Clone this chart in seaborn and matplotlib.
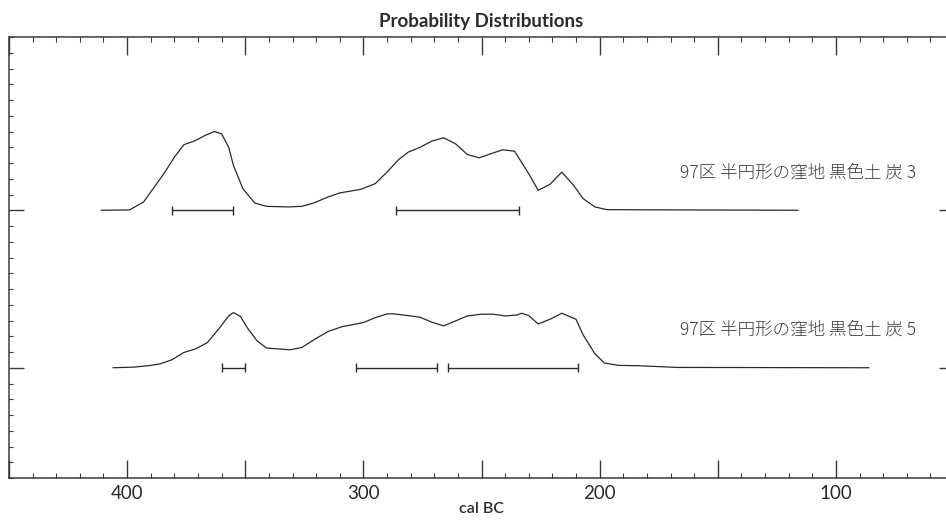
import numpy as np
import pandas as pd
import matplotlib
matplotlib.use("Agg")
import matplotlib.pyplot as plt
import seaborn as sns
from matplotlib.ticker import FixedLocator, FixedFormatter, MultipleLocator

# ---------------------------------------------------------------------------
# Data (cal BC, relative probability)
# ---------------------------------------------------------------------------
labels = ["97区 半円形の窪地 黒色土 炭 3", "97区 半円形の窪地 黒色土 炭 5"]

row1_years = [411, 399, 393, 389, 384, 380, 376, 371, 367, 363, 360, 357, 355,
              351, 346, 341, 332, 326, 321, 315, 310, 301, 295, 290, 285, 281,
              276, 271, 266, 261, 256, 251, 246, 241, 236, 230, 226, 221, 216,
              211, 207, 202, 197, 184, 116]
row1_prob = [0.0, 0.02, 0.53, 1.37, 2.42, 3.37, 4.16, 4.43, 4.75, 5.0, 4.85,
             4.0, 2.85, 1.37, 0.46, 0.25, 0.21, 0.25, 0.46, 0.84, 1.1, 1.33,
             1.69, 2.42, 3.23, 3.69, 4.0, 4.39, 4.6, 4.22, 3.54, 3.33, 3.59,
             3.84, 3.75, 2.32, 1.27, 1.65, 2.42, 1.58, 0.74, 0.21, 0.04, 0.03,
             0.0]

row2_years = [406, 397, 391, 386, 381, 376, 371, 366, 361, 357, 355, 352, 349,
              345, 341, 331, 326, 321, 315, 309, 300, 295, 290, 287, 280, 276,
              271, 266, 261, 256, 250, 245, 240, 235, 233, 230, 226, 221, 216,
              210, 207, 202, 198, 192, 184, 167, 86]
row2_prob = [0.0, 0.04, 0.13, 0.25, 0.51, 0.97, 1.2, 1.6, 2.51, 3.29, 3.5,
             3.25, 2.51, 1.71, 1.25, 1.14, 1.29, 1.77, 2.3, 2.61, 2.87, 3.18,
             3.42, 3.42, 3.29, 3.21, 2.89, 2.66, 2.97, 3.29, 3.4, 3.4, 3.29,
             3.35, 3.46, 3.31, 2.78, 3.08, 3.46, 3.08, 2.09, 0.89, 0.3, 0.15,
             0.13, 0.02, 0.0]

# 95.4% ranges (from, to)
row1_ranges = [(381, 355), (286, 234)]
row2_ranges = [(360, 350), (303, 269), (264, 209)]

x_labels = {400: "400", 300: "300", 200: "200", 100: "100"}

# ---------------------------------------------------------------------------
LINE = "#2a2a2a"
AXIS = "#3a3a3a"
TEXT = "#2b2b2b"

sns.set_theme(style="white")
plt.rcParams["font.family"] = ["Lato", "DejaVu Sans"]

fig = plt.figure(figsize=(9.46, 5.2), dpi=100)
ax = fig.add_axes([9 / 946, 42 / 520, 945 / 946, 441 / 520])

baselines = [17, 7]
rows = [(row1_years, row1_prob, row1_ranges), (row2_years, row2_prob, row2_ranges)]

for (yrs, prob, ranges), base, lab in zip(rows, baselines, labels):
    df = pd.DataFrame({"year": yrs, "p": np.array(prob) + base})
    sns.lineplot(data=df, x="year", y="p", ax=ax, color=LINE, lw=0.9,
                 estimator=None, sort=False)
    for a, b in ranges:
        ax.hlines(base, a, b, color=LINE, lw=1.0)
        ax.vlines([a, b], base - 0.27, base + 0.27, color=LINE, lw=1.0)
    ax.text(66, base + 2.4, lab, ha="right", va="center", fontsize=12.6,
            color="#3c3c3c", family=["Noto Sans CJK JP", "DejaVu Sans"],
            fontweight="light")

ax.set_xlim(450, 50)
ax.set_ylim(0, 28)

# x ticks: major every 50, minor every 10, labels on the hundreds
majors = list(range(450, 40, -50))
ax.xaxis.set_major_locator(FixedLocator(majors))
ax.xaxis.set_major_formatter(FixedFormatter([x_labels.get(m, "") for m in majors]))
ax.xaxis.set_minor_locator(MultipleLocator(10))
ax.yaxis.set_major_locator(FixedLocator(baselines))
ax.yaxis.set_major_formatter(FixedFormatter(["", ""]))
ax.yaxis.set_minor_locator(MultipleLocator(1))

ax.tick_params(axis="x", which="major", direction="in", length=13, width=1.0,
               color=AXIS, top=True, bottom=True, labelsize=13.5,
               labelcolor=TEXT, pad=5)
ax.tick_params(axis="x", which="minor", direction="in", length=3.8, width=0.8,
               color=AXIS, top=True, bottom=True)
ax.tick_params(axis="y", which="major", direction="in", length=11, width=1.0,
               color=AXIS, left=True, right=True)
ax.tick_params(axis="y", which="minor", direction="in", length=3, width=0.8,
               color=AXIS, left=True, right=True)

for s in ax.spines.values():
    s.set_visible(True)
    s.set_color(AXIS)
    s.set_linewidth(1.1)

ax.set_xlabel("cal BC", fontsize=11.5, color=TEXT, labelpad=0, fontweight="semibold")
ax.set_ylabel("")
ax.set_title("Probability Distributions", fontsize=13.5, color=TEXT,
             fontweight="bold", pad=7)
ax.set_facecolor("white")
fig.patch.set_facecolor("white")

fig.savefig("out.png", dpi=100)
